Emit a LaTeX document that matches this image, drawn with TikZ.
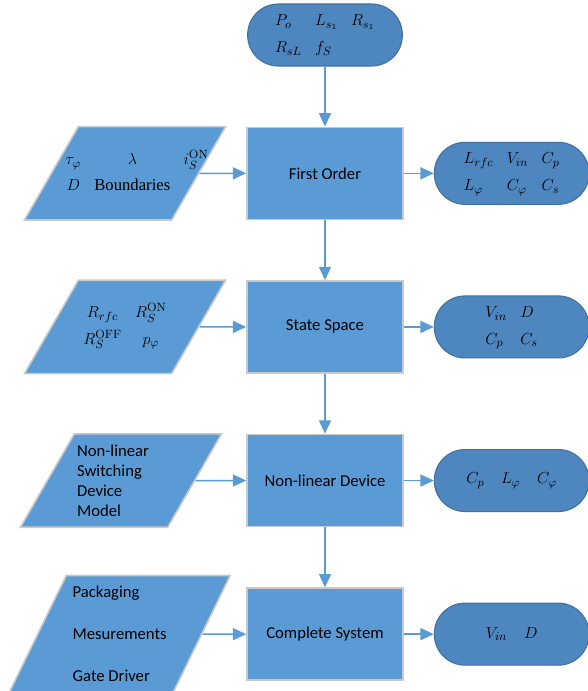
\documentclass[tikz,border=0pt]{standalone}
\usepackage[no-math]{fontspec}
\setmainfont{Carlito}
\newfontfamily\tms{Liberation Serif}
\usepackage{xcolor}
\usepackage{tikz}
\usetikzlibrary{arrows.meta,positioning,shapes.geometric}
\definecolor{boxblue}{HTML}{5B9BD5}
\definecolor{pillblue}{HTML}{4E86C0}
\definecolor{pillline}{HTML}{41719C}
\definecolor{edgegray}{HTML}{C9C9C9}
\setlength\tabcolsep{5pt}

\begin{document}
\begin{tikzpicture}[x=0.75pt,y=-0.75pt,node distance=45pt,>={Triangle[length=10pt,width=9pt]},
  every node/.style={font=\fontsize{12.5}{15}\selectfont},
  stage/.style={draw=edgegray,line width=1.2pt,fill=boxblue,minimum width=117pt,minimum height=69pt},
  pill/.style={draw=pillline,line width=0.8pt,fill=pillblue,rounded corners=23pt,minimum width=116pt,minimum height=46.5pt},
  given/.style={trapezium,trapezium left angle=60,trapezium right angle=120,draw=edgegray,line width=1.2pt,fill=boxblue,inner xsep=35pt,inner ysep=27.5pt},
  flow/.style={->,draw=boxblue,line width=1.1pt}]
\useasboundingbox (0,0) rectangle (587,691);

% main column
\node[pill] (spec) at (325,35) {\begin{tabular}{@{}lll@{}}$P_o$ & $L_{s_1}$ & $R_{s_1}$\\[5pt] $R_{sL}$ & $f_S$ &\end{tabular}};
\node[stage,below=of spec] (first) {First Order};
\node[stage,below=of first] (space) {State Space};
\node[stage,below=of space] (device) {Non-linear Device};
\node[stage,below=of device] (system) {Complete System};

% inputs
\coordinate (incol) at (125,0);
\node[given] (bound) at (incol |- first) {\strut};
\node (boundtxt) at ([xshift=9pt]bound.center) {\begin{tabular}{@{}ccc@{}}$\tau_\varphi$ & $\lambda$ & $i_S^{\mathrm{ON}}$\\[4pt] $D$ & {\tms Boundaries} &\end{tabular}};
\node[given] (loss) at (incol |- space) {\strut};
\node (losstxt) at (loss.center) {\begin{tabular}{@{}cc@{}}$R_{rfc}$ & $R_S^{\mathrm{ON}}$\\[5pt] $R_S^{\mathrm{OFF}}$ & $p_\varphi$\end{tabular}};
\node[given,xshift=-3pt] (model) at (incol |- device) {\strut};
\node[align=left] (modeltxt) at ([xshift=-6pt]model.center) {Non-linear\\Switching\\Device\\Model};
\node[given,inner xsep=40pt,inner ysep=36.5pt,trapezium left angle=64,trapezium right angle=116,xshift=-4pt] (extra) at (incol |- system) {\strut};
\node[align=left] (extratxt) at (extra.center) {Packaging\\[16.5pt]Mesurements\\[16.5pt]Gate Driver};

% outputs
\node[pill,right=22.5pt of first] (firstout) {\begin{tabular}{@{}lll@{}}$L_{rfc}$ & $V_{in}$ & $C_p$\\[5pt] $L_\varphi$ & $C_\varphi$ & $C_s$\end{tabular}};
\node[pill,right=22.5pt of space] (spaceout) {\begin{tabular}{@{}ll@{}}$V_{in}$ & $D$\\[5pt] $C_p$ & $C_s$\end{tabular}};
\node[pill,right=22.5pt of device] (deviceout) {$C_p$\quad $L_\varphi$\quad $C_\varphi$};
\node[pill,right=22.5pt of system] (systemout) {$V_{in}$\quad $D$};

\draw[flow] (spec) -- (first);
\draw[flow] (first) -- (space);
\draw[flow] (space) -- (device);
\draw[flow] (device) -- (system);
\draw[flow] (bound) -- (first);
\draw[flow] (loss) -- (space);
\draw[flow] (model) -- (device);
\draw[flow] (extra) -- (system);
\draw[flow] (first) -- (firstout);
\draw[flow] (space) -- (spaceout);
\draw[flow] (device) -- (deviceout);
\draw[flow] (system) -- (systemout);
\end{tikzpicture}
\end{document}
